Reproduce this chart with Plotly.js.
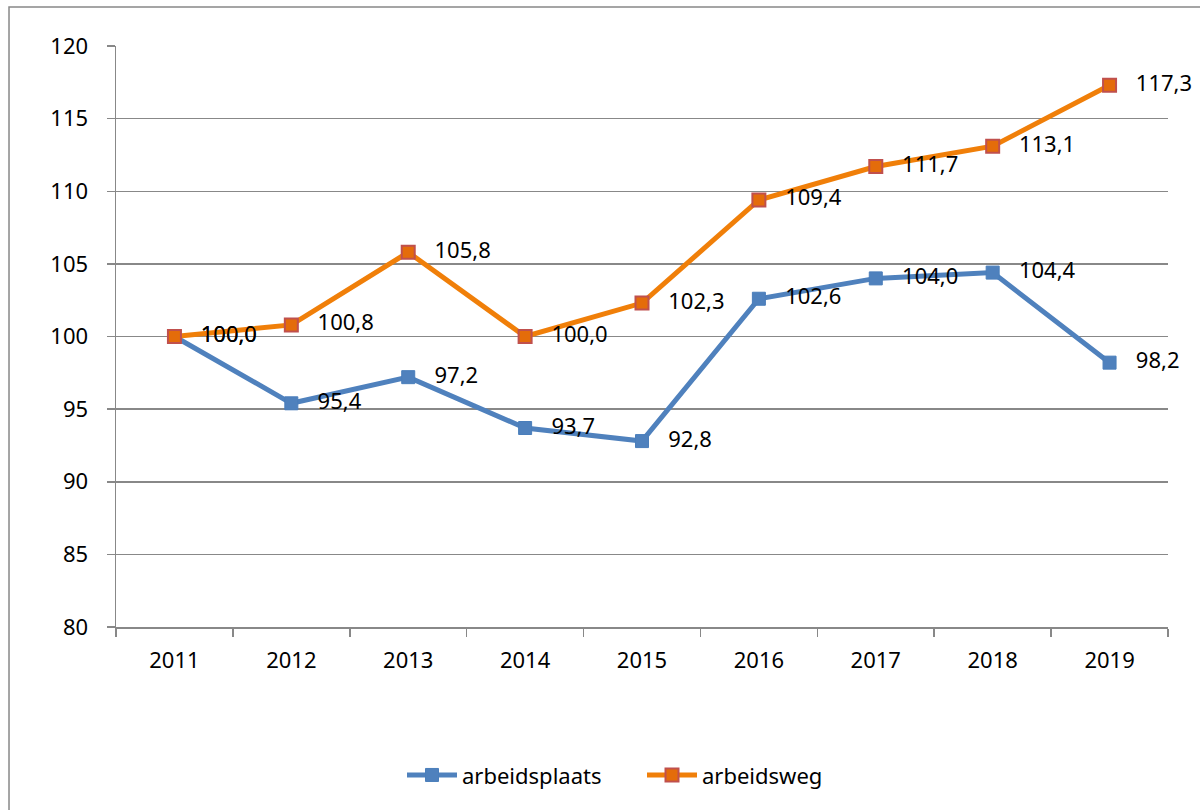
<!DOCTYPE html>
<html>
<head>
<meta charset="utf-8">
<script src="https://cdn.plot.ly/plotly-3.0.1.min.js"></script>
<style>
  html, body { margin: 0; padding: 0; background: #fff; }
  #chart { width: 1200px; height: 810px; }
</style>
</head>
<body>
<div id="chart"></div>
<script>
const years = ['2011','2012','2013','2014','2015','2016','2017','2018','2019'];
const arbeidsplaats = [100.0, 95.4, 97.2, 93.7, 92.8, 102.6, 104.0, 104.4, 98.2];
const arbeidsweg = [100.0, 100.8, 105.8, 100.0, 102.3, 109.4, 111.7, 113.1, 117.3];
const seriesNames = ['arbeidsplaats', 'arbeidsweg'];

const fontFam = '"Noto Sans", "Open Sans", sans-serif';
const pad = '\u00A0\u00A0\u00A0';
const fmt = v => pad + v.toFixed(1).replace('.', ',');

const traces = [
  {
    x: years, y: arbeidsplaats, name: seriesNames[0], type: 'scatter', mode: 'lines+markers+text',
    text: arbeidsplaats.map(fmt), textposition: 'middle right', cliponaxis: false,
    textfont: {family: fontFam, size: 22, color: '#000'},
    line: {color: '#4f81bd', width: 5},
    marker: {symbol: 'square', size: 13, color: '#4f81bd', line: {color: '#4a7ebb', width: 1}}
  },
  {
    x: years, y: arbeidsweg, name: seriesNames[1], type: 'scatter', mode: 'lines+markers+text',
    text: arbeidsweg.map(fmt), textposition: 'middle right', cliponaxis: false,
    textfont: {family: fontFam, size: 22, color: '#000'},
    line: {color: '#f07f09', width: 5},
    marker: {symbol: 'square', size: 13, color: '#e46c0a', line: {color: '#c0504d', width: 2}}
  }
];

const layout = {
  width: 1200, height: 810,
  margin: {l: 116, r: 32, t: 46, b: 183},
  paper_bgcolor: '#fff', plot_bgcolor: '#fff',
  font: {family: fontFam, size: 22, color: '#000'},
  showlegend: true,
  legend: {orientation: 'h', x: 0.5, xanchor: 'center', y: -0.255, yanchor: 'middle',
           font: {family: fontFam, size: 22, color: '#000'}, itemwidth: 50,
           entrywidth: 175, entrywidthmode: 'pixels'},
  xaxis: {
    type: 'category', range: [-0.5, 8.5], tickson: 'boundaries',
    ticks: 'outside', ticklen: 8, tickcolor: '#888', tickwidth: 1.5,
    showline: true, linecolor: '#888', linewidth: 1.5, showgrid: false,
    ticklabelstandoff: 13, fixedrange: true
  },
  yaxis: {
    range: [80, 120], dtick: 5, tick0: 80,
    ticks: 'outside', ticklen: 8, tickcolor: '#888', tickwidth: 1.5,
    showline: true, linecolor: '#888', linewidth: 1.5,
    showgrid: true, gridcolor: '#888', gridwidth: 1.5, zeroline: false,
    ticklabelstandoff: 14, fixedrange: true
  },
  shapes: [{
    type: 'rect', xref: 'paper', yref: 'paper', x0: -0.1017, x1: 1.06, y0: -0.33, y1: 1.067,
    line: {color: '#888', width: 1.5}, fillcolor: 'rgba(0,0,0,0)', layer: 'below'
  }]
};

Plotly.newPlot('chart', traces, layout, {displayModeBar: false, staticPlot: true});
</script>
</body>
</html>
